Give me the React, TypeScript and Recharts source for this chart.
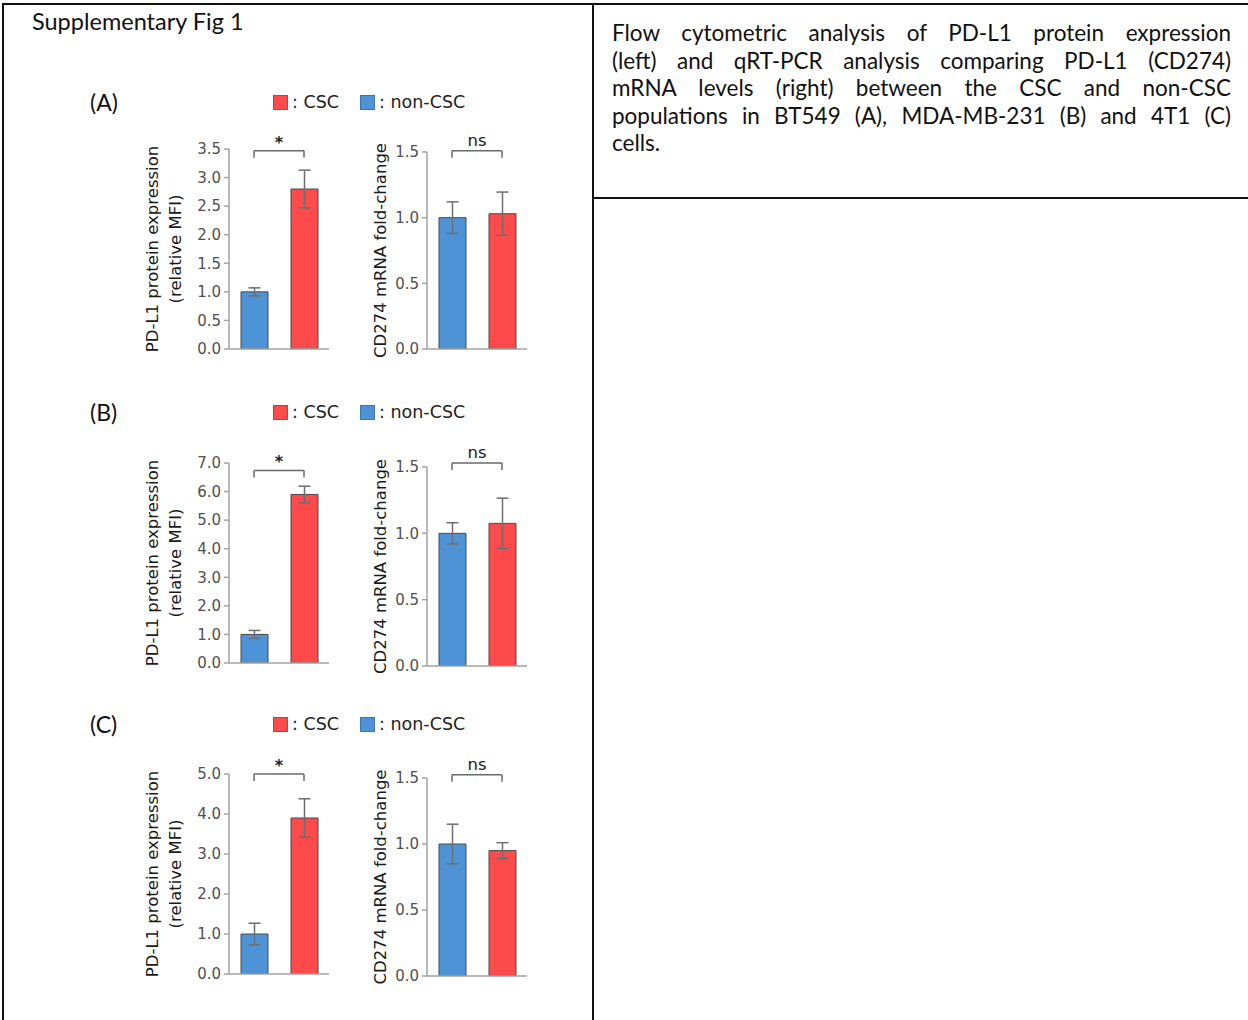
import React from "react";
import { BarChart, Bar, Cell, XAxis, YAxis, ErrorBar, ReferenceLine } from "recharts";

// categories, left to right in every chart
const groups = ["non-CSC", "CSC"];
const panelNames = ["(A)", "(B)", "(C)"];

// PD-L1 protein (relative MFI), one pair per panel
const mfiMean = [
  [1.0, 2.8],
  [1.0, 5.9],
  [1.0, 3.9],
];
const mfiErr = [
  [0.07, 0.33],
  [0.14, 0.29],
  [0.27, 0.48],
];
const mfiTicks = [
  [0, 0.5, 1.0, 1.5, 2.0, 2.5, 3.0, 3.5],
  [0, 1, 2, 3, 4, 5, 6, 7],
  [0, 1, 2, 3, 4, 5],
];
const mfiBracket = [3.47, 6.74, 5.0];
const mfiSig = ["*", "*", "*"];

// CD274 mRNA fold-change
const mrnaMean = [
  [1.0, 1.03],
  [1.0, 1.075],
  [1.0, 0.95],
];
const mrnaErr = [
  [0.12, 0.165],
  [0.08, 0.19],
  [0.15, 0.06],
];
const mrnaTicks = [0, 0.5, 1.0, 1.5];
const mrnaBracket = [1.51, 1.53, 1.525];
const mrnaSig = ["ns", "ns", "ns"];

const captionLines = [
  "Flow cytometric analysis of PD-L1 protein expression",
  "(left) and qRT-PCR analysis comparing PD-L1 (CD274)",
  "mRNA levels (right) between the CSC and non-CSC",
  "populations in BT549 (A), MDA-MB-231 (B) and 4T1 (C)",
  "cells.",
];

const BLUE = "#4f93d7";
const RED = "#fd4a4a";
const AXIS = "#a3a3a3";
const barColors = [BLUE, RED];
const chartFont = "'DejaVu Sans', sans-serif";

// layout (pixels)
const leftPlotTop = [149, 463, 774];
const rightPlotTop = [152, 467, 778];
const rightPlotH = [197, 199, 198];
const legendTop = [96, 406, 718];

const makeLabel = (lines: string[], offsets: number[]) => (props: any) => {
  const vb = props.viewBox || { x: 0, y: 0, width: 0, height: 0 };
  const cy = vb.y + vb.height / 2;
  return (
    <g>
      {lines.map((t, i) => {
        const cx = vb.x + offsets[i];
        return (
          <text
            key={i}
            x={cx}
            y={cy}
            transform={`rotate(-90 ${cx} ${cy})`}
            textAnchor="middle"
            dominantBaseline="central"
            fontFamily={chartFont}
            fontSize={16.5}
            fill="#1a1a1a"
          >
            {t}
          </text>
        );
      })}
    </g>
  );
};

interface SmallBarProps {
  left: number;
  plotTop: number;
  plotH: number;
  axisW: number;
  means: number[];
  errs: number[];
  ticks: number[];
  bracket: number;
  sig: string;
  labelLines: string[];
  labelOffsets: number[];
}

function SmallBar({ left, plotTop, plotH, axisW, means, errs, ticks, bracket, sig, labelLines, labelOffsets }: SmallBarProps) {
  const data = groups.map((g, i) => ({ group: g, value: means[i], err: errs[i] }));
  const yMax = ticks[ticks.length - 1];
  const drop = (yMax * 7) / plotH;
  const TOP = 40;
  const BOTTOM = 16;
  const W = axisW + 100 + 6;
  const H = TOP + plotH + 1 + BOTTOM;
  const isStar = sig === "*";

  return (
    <div style={{ position: "absolute", left, top: plotTop - TOP }}>
      <BarChart width={W} height={H} data={data} margin={{ top: TOP, right: 6, bottom: BOTTOM, left: 0 }} barSize={27}>
        <XAxis dataKey="group" tick={false} tickLine={false} axisLine={{ stroke: AXIS, strokeWidth: 1.5 }} height={1} />
        <YAxis
          domain={[0, yMax]}
          ticks={ticks}
          interval={0}
          width={axisW}
          tickFormatter={(v: number) => v.toFixed(1)}
          tick={{ fill: "#505050", fontSize: 15, fontFamily: chartFont }}
          tickSize={5}
          tickMargin={3}
          tickLine={{ stroke: AXIS, strokeWidth: 1.5 }}
          axisLine={{ stroke: AXIS, strokeWidth: 1.5 }}
          allowDataOverflow
          label={makeLabel(labelLines, labelOffsets)}
        />
        <Bar dataKey="value" stroke="#4a4a4a" strokeWidth={1} isAnimationActive={false}>
          {data.map((d, i) => (
            <Cell key={d.group} fill={barColors[i]} />
          ))}
          <ErrorBar dataKey="err" width={6} stroke="#6e6e6e" strokeWidth={1.5} direction="y" isAnimationActive={false} />
        </Bar>
        <ReferenceLine
          segment={[
            { x: groups[0], y: bracket },
            { x: groups[1], y: bracket },
          ]}
          stroke="#6a6a6a"
          strokeWidth={1.5}
          ifOverflow="visible"
          label={{
            value: sig,
            position: "top",
            offset: isStar ? 3 : 5,
            fill: "#222",
            fontSize: isStar ? 16 : 16.5,
            fontFamily: chartFont,
            fontWeight: isStar ? 700 : 400,
          }}
        />
        <ReferenceLine
          segment={[
            { x: groups[0], y: bracket },
            { x: groups[0], y: bracket - drop },
          ]}
          stroke="#6a6a6a"
          strokeWidth={1.5}
          ifOverflow="visible"
        />
        <ReferenceLine
          segment={[
            { x: groups[1], y: bracket },
            { x: groups[1], y: bracket - drop },
          ]}
          stroke="#6a6a6a"
          strokeWidth={1.5}
          ifOverflow="visible"
        />
      </BarChart>
    </div>
  );
}

function LegendRow({ top }: { top: number }) {
  const sq = (c: string) => ({
    display: "inline-block",
    width: 15,
    height: 15,
    background: c,
    border: "1px solid rgba(0,0,0,0.2)",
    boxSizing: "border-box" as const,
    marginRight: 4,
  });
  return (
    <div
      style={{
        position: "absolute",
        left: 273,
        top: top - 4,
        display: "flex",
        alignItems: "center",
        fontFamily: chartFont,
        fontSize: 17.5,
        color: "#222",
        whiteSpace: "nowrap",
      }}
    >
      <span style={sq(RED)} />
      <span style={{ marginRight: 21 }}>: CSC</span>
      <span style={sq(BLUE)} />
      <span>: non-CSC</span>
    </div>
  );
}

export default function App() {
  const line = (l: number, t: number, w: number, h: number) => (
    <div style={{ position: "absolute", left: l, top: t, width: w, height: h, background: "#111" }} />
  );
  return (
    <div
      style={{
        position: "absolute",
        left: 0,
        top: 0,
        width: 1248,
        height: 1020,
        background: "#fff",
        overflow: "hidden",
        fontFamily: "Lato, sans-serif",
      }}
    >
      {line(2, 3, 1246, 2)}
      {line(2, 3, 2, 1017)}
      {line(592, 3, 2, 1017)}
      {line(592, 197, 656, 2)}

      <div style={{ position: "absolute", left: 32, top: 7, fontSize: 23.5, color: "#111" }}>Supplementary Fig 1</div>

      <div style={{ position: "absolute", left: 612, top: 19, width: 619, fontSize: 22.5, lineHeight: "27.5px", color: "#111" }}>
        {captionLines.map((t, i) => (
          <div key={i} style={{ textAlign: "justify", textAlignLast: i < captionLines.length - 1 ? "justify" : "left" }}>
            {t}
          </div>
        ))}
      </div>

      {panelNames.map((p, k) => (
        <React.Fragment key={p}>
          <div style={{ position: "absolute", left: 90, top: legendTop[k] - 8, fontSize: 23, color: "#111" }}>{p}</div>
          <LegendRow top={legendTop[k]} />
          <SmallBar
            left={130}
            plotTop={leftPlotTop[k]}
            plotH={200}
            axisW={99}
            means={mfiMean[k]}
            errs={mfiErr[k]}
            ticks={mfiTicks[k]}
            bracket={mfiBracket[k]}
            sig={mfiSig[k]}
            labelLines={["PD-L1 protein expression", "(relative MFI)"]}
            labelOffsets={[22, 45]}
          />
          <SmallBar
            left={340}
            plotTop={rightPlotTop[k]}
            plotH={rightPlotH[k]}
            axisW={87}
            means={mrnaMean[k]}
            errs={mrnaErr[k]}
            ticks={mrnaTicks}
            bracket={mrnaBracket[k]}
            sig={mrnaSig[k]}
            labelLines={["CD274 mRNA fold-change"]}
            labelOffsets={[40]}
          />
        </React.Fragment>
      ))}
    </div>
  );
}
